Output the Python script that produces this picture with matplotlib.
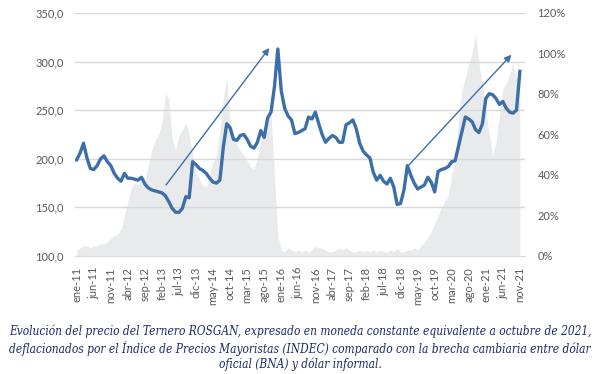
import matplotlib
matplotlib.use("Agg")
import matplotlib.pyplot as plt
import numpy as np

# Precio del Ternero ROSGAN (moneda constante oct-2021), mensual ene-11 .. nov-21
precio = [199, 206, 216, 201, 190, 189, 193, 200, 203, 197,
          193, 185, 180, 177, 185, 180, 180, 179, 178, 181,
          174, 170, 168, 167, 166, 165, 162, 156, 149, 145,
          145, 149, 161, 160, 197, 194, 190, 188, 185, 180,
          176, 175, 178, 212, 236, 232, 220, 219, 224, 225,
          220, 213, 211, 217, 229, 222, 242, 248, 274, 313,
          270, 252, 244, 240, 226, 227, 229, 231, 243, 241,
          248, 236, 225, 217, 221, 224, 222, 217, 217, 235,
          237, 240, 231, 216, 208, 204, 201, 186, 178, 183,
          177, 174, 180, 171, 153, 154, 168, 193, 183, 175,
          169, 171, 173, 181, 176, 166, 187, 189, 190, 192,
          197, 198, 213, 228, 243, 241, 238, 230, 227, 236,
          262, 267, 266, 262, 256, 259, 252, 248, 247, 250,
          290]

# Brecha cambiaria oficial (BNA) vs informal, % (eje derecho)
brecha = [3, 4, 5, 5, 4, 5, 5, 6, 6, 7,
          9, 10, 11, 13, 20, 27, 34, 36, 35, 37,
          36, 45, 52, 57, 60, 66, 80, 78, 58, 52,
          60, 62, 66, 60, 50, 42, 38, 35, 34, 40,
          46, 50, 62, 78, 88, 66, 58, 55, 52, 50,
          47, 44, 43, 48, 57, 64, 67, 70, 40, 10,
          3, 2, 4, 3, 2, 3, 2, 3, 2, 3,
          5, 4, 4, 3, 2, 2, 3, 4, 3, 4,
          3, 2, 2, 3, 2, 3, 2, 3, 2, 3,
          2, 2, 3, 2, 4, 2, 2, 3, 3, 4,
          3, 5, 7, 9, 12, 16, 20, 24, 27, 30,
          40, 48, 68, 82, 88, 95, 100, 110, 95, 85,
          72, 60, 50, 56, 70, 83, 85, 90, 95, 88,
          90]

meses = ["ene", "feb", "mar", "abr", "may", "jun",
         "jul", "ago", "sep", "oct", "nov", "dic"]
anio_inicio = 2011
n_categorias = 132  # ene-11 .. dic-21
paso_etiquetas = 5

left_ticks = [100, 150, 200, 250, 300, 350]
right_ticks = [0, 20, 40, 60, 80, 100, 120]

caption_lines = [
    "Evolución del precio del Ternero ROSGAN, expresado en moneda constante equivalente a octubre de 2021,",
    "deflacionados por el Índice de Precios Mayoristas (INDEC) comparado con la brecha cambiaria entre dólar",
    "oficial (BNA) y dólar informal.",
]

labels_all = [f"{meses[i % 12]}-{(anio_inicio + i // 12) % 100:02d}" for i in range(n_categorias)]

plt.rcParams['font.family'] = ['Lato', 'DejaVu Sans']

fig = plt.figure(figsize=(6.0, 3.74), dpi=100)
ax = fig.add_axes([75/600, 1-256/374, 450/600, 243/374])
ax2 = ax.twinx()

x = np.arange(len(precio))
xb = np.arange(len(brecha))

tick_col = "#595959"
grid_col = "#d9d9d9"
line_col = "#3c6eaa"
area_col = "#e9eaeb"

ax2.fill_between(xb, 0, brecha, color=area_col, lw=0, zorder=1)
ax2.set_ylim(0, 120)
ax2.set_yticks(right_ticks)
ax2.set_yticklabels([f"{v}%" for v in right_ticks])

ax.set_zorder(ax2.get_zorder() + 1)
ax.patch.set_visible(False)

for v in left_ticks[1:]:
    ax.axhline(v, color=grid_col, lw=1.0, zorder=0)
ax.plot(x, precio, color=line_col, lw=2.4, solid_joinstyle='round', zorder=3)
ax.set_ylim(100, 350)
ax.set_yticks(left_ticks)
ax.set_yticklabels([f"{v:.1f}".replace(".", ",") for v in left_ticks])
ax.set_xlim(-0.5, n_categorias - 0.5)
tick_pos = list(range(0, len(precio), paso_etiquetas))
ax.set_xticks(tick_pos)
ax.set_xticklabels([labels_all[i] for i in tick_pos], rotation=90)

ax.annotate("", xy=(56.5, 314), xytext=(26.2, 173),
            arrowprops=dict(arrowstyle="-|>", color=line_col, lw=1.0,
                            mutation_scale=10, shrinkA=0, shrinkB=0), zorder=4)
ax.annotate("", xy=(127.5, 307), xytext=(97.4, 193.5),
            arrowprops=dict(arrowstyle="-|>", color=line_col, lw=1.0,
                            mutation_scale=10, shrinkA=0, shrinkB=0), zorder=4)

for a in (ax, ax2):
    for s in a.spines.values():
        s.set_visible(False)
    a.tick_params(length=0, colors=tick_col, labelsize=8)
ax.spines['bottom'].set_visible(True)
ax.spines['bottom'].set_color(grid_col)
ax.tick_params(axis='y', pad=8)
ax.tick_params(axis='x', pad=8)
ax2.tick_params(axis='y', pad=9)

# caption: each line centered, font size fitted so the first line spans ~584 px
cap_y = [331, 348, 364]
renderer = fig.canvas.get_renderer()
probe = fig.text(0, 0, caption_lines[0], fontsize=10, style='italic',
                 family=['DejaVu Serif'], fontstretch='condensed')
w = probe.get_window_extent(renderer).width
probe.remove()
fs = 10 * 584 / w
for line, yy in zip(caption_lines, cap_y):
    fig.text(0.5, 1 - yy / 374, line, ha='center', va='center', fontsize=fs,
             style='italic', family=['DejaVu Serif'], fontstretch='condensed',
             color="#1c2a6b")

fig.savefig("out.png", dpi=100)
